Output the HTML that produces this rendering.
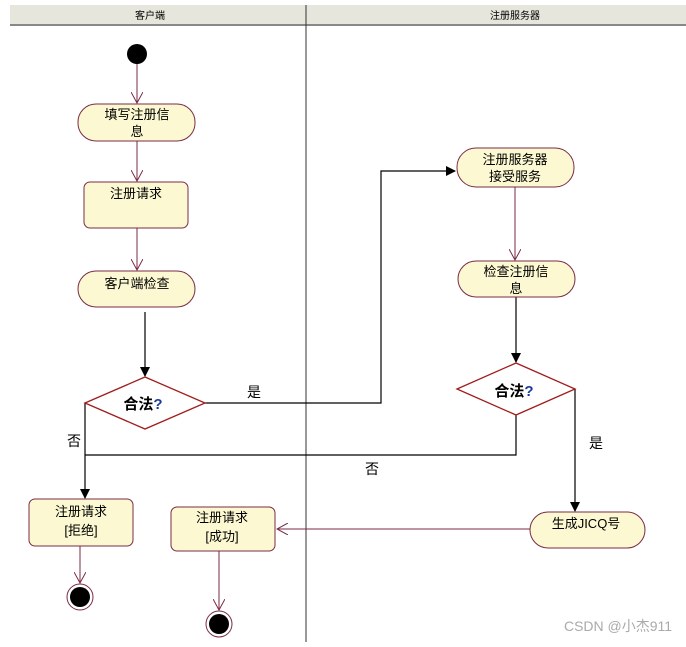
<!DOCTYPE html>
<html><head><meta charset="utf-8"><style>
body{margin:0;background:#fff;width:686px;height:642px;overflow:hidden}
text{font-family:"Liberation Sans","Noto Sans CJK SC",sans-serif}
</style></head><body>
<svg width="686" height="642" viewBox="0 0 686 642" xmlns="http://www.w3.org/2000/svg">
<defs>
<marker id="ab" markerWidth="10" markerHeight="10" refX="9" refY="5" orient="auto" markerUnits="userSpaceOnUse"><path d="M0,0 L10,5 L0,10 z" fill="#000"/></marker>
<marker id="am" markerWidth="12" markerHeight="12" refX="11" refY="6" orient="auto" markerUnits="userSpaceOnUse"><path d="M0,0 L11,6 L0,12" fill="none" stroke="#7a2a45" stroke-width="1"/></marker>
</defs>
<rect x="10" y="5" width="676" height="20" fill="#e6e6dc"/>
<line x1="10" y1="25" x2="686" y2="25" stroke="#888" stroke-width="2"/>
<line x1="306" y1="5" x2="306" y2="642" stroke="#333" stroke-width="1"/>
<text x="150" y="19" font-size="10" text-anchor="middle">客户端</text>
<text x="515" y="19" font-size="10" text-anchor="middle">注册服务器</text>
<g stroke="#7a2a45" stroke-width="1" fill="none">
<line x1="137" y1="60" x2="137" y2="103" marker-end="url(#am)"/>
<line x1="137" y1="141" x2="137" y2="181" marker-end="url(#am)"/>
<line x1="137" y1="228" x2="137" y2="270" marker-end="url(#am)"/>
<line x1="515" y1="187" x2="515" y2="260" marker-end="url(#am)"/>
<line x1="530" y1="529" x2="277" y2="529" marker-end="url(#am)"/>
<line x1="80" y1="546" x2="80" y2="583" marker-end="url(#am)"/>
<line x1="219" y1="551" x2="219" y2="610" marker-end="url(#am)"/>
</g>
<g stroke="#000" stroke-width="1.2" fill="none">
<line x1="145" y1="312" x2="145" y2="376" marker-end="url(#ab)"/>
<polyline points="205,403 381,403 381,171 455,171" marker-end="url(#ab)"/>
<line x1="516" y1="297" x2="516" y2="362" marker-end="url(#ab)"/>
<polyline points="516,415 516,455 85,455"/>
<line x1="85" y1="403" x2="85" y2="498" marker-end="url(#ab)"/>
<line x1="575" y1="389" x2="575" y2="511" marker-end="url(#ab)"/>
</g>
<circle cx="137" cy="54" r="10" fill="#000"/>
<g fill="#fcf9d2" stroke="#7a2a45" stroke-width="1">
<rect x="78" y="104" width="117" height="37" rx="18"/>
<rect x="84" y="182" width="104" height="46" rx="6"/>
<rect x="78" y="271" width="117" height="36" rx="18"/>
<rect x="457" y="148" width="117" height="39" rx="19"/>
<rect x="458" y="261" width="117" height="36" rx="18"/>
<rect x="530" y="512" width="115" height="36" rx="18"/>
<rect x="29" y="499" width="104" height="47" rx="6"/>
<rect x="171" y="507" width="104" height="44" rx="6"/>
</g>
<g fill="#fff" stroke="#a01c1c" stroke-width="1.3">
<polygon points="85,403 145,377 205,403 145,429"/>
<polygon points="457,389 516,363 575,389 516,415"/>
</g>
<g font-size="13" text-anchor="middle" fill="#000">
<text x="137" y="119">填写注册信</text><text x="137" y="136">息</text>
<text x="136" y="198">注册请求</text>
<text x="137" y="288">客户端检查</text>
<text x="515" y="164">注册服务器</text><text x="515" y="181">接受服务</text>
<text x="516" y="276">检查注册信</text><text x="516" y="293">息</text>
<text x="586" y="528">生成JICQ号</text>
<text x="81" y="516">注册请求</text><text x="81" y="535">[拒绝]</text>
<text x="222" y="522">注册请求</text><text x="222" y="541">[成功]</text>
<text x="254" y="397" font-size="14">是</text>
<text x="74" y="446" font-size="14">否</text>
<text x="372" y="474" font-size="14">否</text>
<text x="596" y="448" font-size="14">是</text>
<text x="143" y="409" font-size="15" font-weight="bold">合法<tspan fill="#1a3a9a">?</tspan></text>
<text x="514" y="396" font-size="15" font-weight="bold">合法<tspan fill="#1a3a9a">?</tspan></text>
</g>
<circle cx="80" cy="597" r="13" fill="#fff" stroke="#7a2a45"/>
<circle cx="80" cy="597" r="10" fill="#000"/>
<circle cx="219" cy="624" r="13" fill="#fff" stroke="#7a2a45"/>
<circle cx="219" cy="624" r="10" fill="#000"/>
<text x="618" y="631" font-size="14" fill="#aaa" text-anchor="middle">CSDN @小杰911</text>
</svg>
</body></html>
